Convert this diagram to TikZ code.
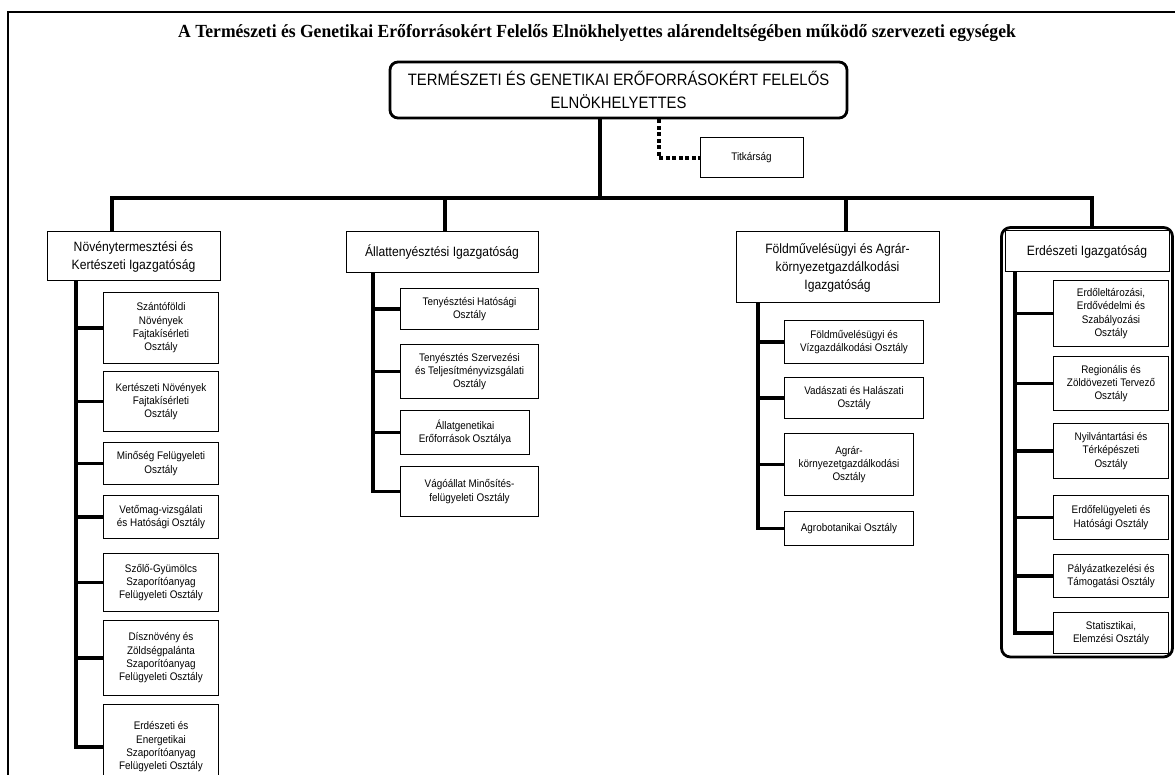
\documentclass[tikz,border=0pt]{standalone}
\usepackage{fontspec}
\setmainfont{Liberation Serif}
\newfontfamily\sansn[FakeStretch=0.9]{Liberation Sans}
\newfontfamily\titlefont[FakeStretch=0.95]{Liberation Serif}
\usetikzlibrary{positioning, fit}

\begin{document}
\begin{tikzpicture}[
    x=1pt, y=-1pt,
    fejlec/.style={draw, line width=2.8pt, rounded corners=8pt, align=center,
                   font=\sansn\fontsize{16.5}{23}\selectfont},
    igazg/.style={draw, line width=1pt, align=center, inner sep=2pt,
                  font=\sansn\fontsize{13.5}{18}\selectfont},
    osztaly/.style={draw, line width=1pt, align=center, inner sep=2pt,
                    font=\sansn\fontsize{11}{13.3}\selectfont},
    csoport/.style={draw, line width=2.8pt, rounded corners=9pt, inner sep=3pt},
    conn/.style={line width=3.4pt},
    dotline/.style={line width=3.4pt, dash pattern=on 4pt off 2.5pt}
]
    \useasboundingbox (0,0) rectangle (1175,775);

    % title and frame
    \node[font=\titlefont\bfseries\fontsize{18.5}{21}\selectfont] (cim) at (597,33)
        {A Természeti és Genetikai Erőforrásokért Felelős Elnökhelyettes alárendeltségében működő szervezeti egységek};
    \draw[line width=2.2pt] (8,790) -- (8,12) -- (1180,12);

    % head
    \node[fejlec, minimum width=457pt, minimum height=56pt] (elnok) at (618.5,90)
        {TERMÉSZETI ÉS GENETIKAI ERŐFORRÁSOKÉRT FELELŐS\\ELNÖKHELYETTES};
    \node[osztaly, minimum width=103pt, minimum height=40pt] (titkar) at (751.5,158) {Titkárság};
    \draw[dotline] ([xshift=40.5pt]elnok.south) |- (titkar.west);

    % directorates
    \node[igazg, minimum width=173pt, minimum height=49pt] (novdir) at (133.5,256.5)
        {Növénytermesztési és\\Kertészeti Igazgatóság};
    \node[igazg, minimum width=192pt, minimum height=41pt] (alldir) at (442,252.5)
        {Állattenyésztési Igazgatóság};
    \node[igazg, minimum width=203pt, minimum height=71pt] (folddir) at (837.5,267.5)
        {Földművelésügyi és Agrár-\\környezetgazdálkodási\\Igazgatóság};
    \node[igazg, minimum width=164pt, minimum height=41pt] (erddir) at (1087,251.5)
        {Erdészeti Igazgatóság};

    % Novenytermesztesi osztalyok
    \node[osztaly, minimum width=115pt, minimum height=71pt, anchor=north west] (c1) at (103,292)
        {Szántóföldi\\Növények\\Fajtakísérleti\\Osztály};
    \node[osztaly, minimum width=115pt, minimum height=60pt, below=7pt of c1.south west, anchor=north west] (c2)
        {Kertészeti Növények\\Fajtakísérleti\\Osztály};
    \node[osztaly, minimum width=115pt, minimum height=42pt, below=10pt of c2.south west, anchor=north west] (c3)
        {Minőség Felügyeleti\\Osztály};
    \node[osztaly, minimum width=115pt, minimum height=43pt, below=10pt of c3.south west, anchor=north west] (c4)
        {Vetőmag-vizsgálati\\és Hatósági Osztály};
    \node[osztaly, minimum width=115pt, minimum height=58pt, below=14pt of c4.south west, anchor=north west] (c5)
        {Szőlő-Gyümölcs\\Szaporítóanyag\\Felügyeleti Osztály};
    \node[osztaly, minimum width=115pt, minimum height=75pt, below=8pt of c5.south west, anchor=north west] (c6)
        {Dísznövény és\\Zöldségpalánta\\Szaporítóanyag\\Felügyeleti Osztály};
    \node[osztaly, minimum width=115pt, minimum height=85pt, below=8pt of c6.south west, anchor=north west] (c7)
        {Erdészeti és\\Energetikai\\Szaporítóanyag\\Felügyeleti Osztály};

    % Allattenyesztesi osztalyok
    \node[osztaly, minimum width=138pt, minimum height=41pt, anchor=north west] (a1) at (400,288)
        {Tenyésztési Hatósági\\Osztály};
    \node[osztaly, minimum width=138pt, minimum height=54pt, below=14pt of a1.south west, anchor=north west] (a2)
        {Tenyésztés Szervezési\\és Teljesítményvizsgálati\\Osztály};
    \node[osztaly, minimum width=129pt, minimum height=44pt, below=11pt of a2.south west, anchor=north west] (a3)
        {Állatgenetikai\\Erőforrások Osztálya};
    \node[osztaly, minimum width=138pt, minimum height=50pt, below=11pt of a3.south west, anchor=north west] (a4)
        {Vágóállat Minősítés-\\felügyeleti Osztály};

    % Foldmuvelesugyi osztalyok
    \node[osztaly, minimum width=139pt, minimum height=43pt, anchor=north west] (f1) at (784,320)
        {Földművelésügyi és\\Vízgazdálkodási Osztály};
    \node[osztaly, minimum width=139pt, minimum height=41pt, below=13pt of f1.south west, anchor=north west] (f2)
        {Vadászati és Halászati\\Osztály};
    \node[osztaly, minimum width=129pt, minimum height=62pt, below=14pt of f2.south west, anchor=north west] (f3)
        {Agrár-\\környezetgazdálkodási\\Osztály};
    \node[osztaly, minimum width=129pt, minimum height=34pt, below=15pt of f3.south west, anchor=north west] (f4)
        {Agrobotanikai Osztály};

    % Erdeszeti osztalyok
    \node[osztaly, minimum width=115pt, minimum height=66pt, anchor=north west] (e1) at (1053,280)
        {Erdőleltározási,\\Erdővédelmi és\\Szabályozási\\Osztály};
    \node[osztaly, minimum width=115pt, minimum height=54pt, below=9pt of e1.south west, anchor=north west] (e2)
        {Regionális és\\Zöldövezeti Tervező\\Osztály};
    \node[osztaly, minimum width=115pt, minimum height=55pt, below=12pt of e2.south west, anchor=north west] (e3)
        {Nyilvántartási és\\Térképészeti\\Osztály};
    \node[osztaly, minimum width=115pt, minimum height=44pt, below=16pt of e3.south west, anchor=north west] (e4)
        {Erdőfelügyeleti és\\Hatósági Osztály};
    \node[osztaly, minimum width=115pt, minimum height=43pt, below=14pt of e4.south west, anchor=north west] (e5)
        {Pályázatkezelési és\\Támogatási Osztály};
    \node[osztaly, minimum width=115pt, minimum height=41pt, below=14pt of e5.south west, anchor=north west] (e6)
        {Statisztikai,\\Elemzési Osztály};
    \node[csoport, fit=(erddir)(e6)] (erdcsop) {};

    % connectors
    \coordinate (bus) at (600,198);
    \draw[conn] (elnok.south -| bus) -- (bus);
    \draw[conn] ([xshift=-21.5pt]novdir.north) |- (bus) -| ([xshift=5pt]erdcsop.north);
    \draw[conn] ([xshift=3pt]alldir.north) |- (bus);
    \draw[conn] ([xshift=8.5pt]folddir.north) |- (bus);

    \coordinate (nbr) at ([xshift=-57.5pt]novdir.south);
    \draw[conn] (nbr) |- (c7.west);
    \foreach \c in {c1,c2,c3,c4,c5,c6}
        \draw[conn] (nbr |- \c.west) -- (\c.west);

    \coordinate (abr) at ([xshift=-69pt]alldir.south);
    \draw[conn] (abr) |- (a4.west);
    \foreach \c in {a1,a2,a3}
        \draw[conn] (abr |- \c.west) -- (\c.west);

    \coordinate (fbr) at ([xshift=-79.5pt]folddir.south);
    \draw[conn] (fbr) |- (f4.west);
    \foreach \c in {f1,f2,f3}
        \draw[conn] (fbr |- \c.west) -- (\c.west);

    \coordinate (ebr) at ([xshift=-72pt]erddir.south);
    \draw[conn] (ebr) |- (e6.west);
    \foreach \c in {e1,e2,e3,e4,e5}
        \draw[conn] (ebr |- \c.west) -- (\c.west);
\end{tikzpicture}
\end{document}
